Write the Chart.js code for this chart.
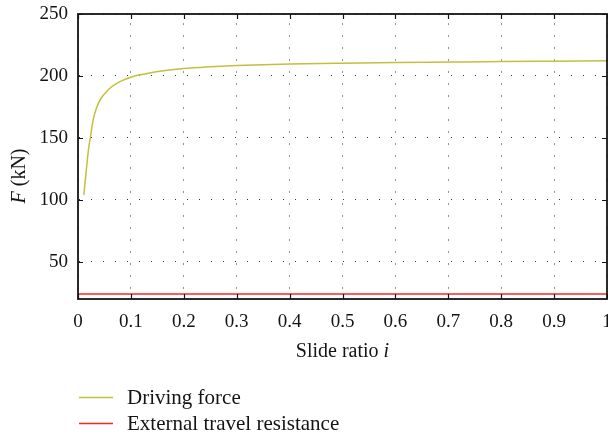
<!DOCTYPE html>
<html><head><meta charset="utf-8">
<script src="https://cdn.jsdelivr.net/npm/chart.js@4.4.1/dist/chart.umd.min.js"></script>
<style>html,body{margin:0;padding:0;background:#fff}#wrap{width:608px;height:436px;position:relative}</style>
</head><body><div id="wrap"><canvas id="c" width="608" height="436"></canvas></div>
<script>
// ---- data ----
const slideRatio = [0.011, 0.0157, 0.0202, 0.0233, 0.0284, 0.0347, 0.0428, 0.0567, 0.0756, 0.1, 0.126, 0.151, 0.2, 0.25, 0.3, 0.4, 0.5, 0.6, 0.7, 0.8, 0.9, 1.0];
const drivingForce = [104, 124, 142, 150, 164, 174, 181.4, 188.7, 194.6, 199, 201.6, 203.6, 206, 207.4, 208.4, 209.6, 210.3, 210.8, 211.2, 211.6, 211.9, 212.2];
const resistanceRatio = [0, 1];
const resistanceForce = [24, 24];
const xTickValues = [0, 0.1, 0.2, 0.3, 0.4, 0.5, 0.6, 0.7, 0.8, 0.9, 1];
const xTickLabels = ['0', '0.1', '0.2', '0.3', '0.4', '0.5', '0.6', '0.7', '0.8', '0.9', '1'];
const yTickValues = [50, 100, 150, 200, 250];
const yTickLabels = ['50', '100', '150', '200', '250'];
const seriesLabels = ['Driving force', 'External travel resistance'];
const seriesColors = ['#c4bf3c', '#ff2424'];

const FONT = "'Liberation Serif', 'DejaVu Serif', serif";
const INK = '#141414';

const framePlugin = {
  id: 'framePlugin',
  afterDraw(chart) {
    const ctx = chart.ctx, a = chart.chartArea;
    const xs = chart.scales.x, ys = chart.scales.y;
    ctx.save();
    // inward ticks
    ctx.strokeStyle = INK; ctx.lineWidth = 1.2;
    ctx.beginPath();
    xTickValues.forEach(v => {
      const px = Math.round(xs.getPixelForValue(v)) + 0.5;
      ctx.moveTo(px, a.bottom); ctx.lineTo(px, a.bottom - 5);
      ctx.moveTo(px, a.top); ctx.lineTo(px, a.top + 5);
    });
    yTickValues.forEach(v => {
      const py = Math.round(ys.getPixelForValue(v)) + 0.5;
      ctx.moveTo(a.left, py); ctx.lineTo(a.left + 5, py);
      ctx.moveTo(a.right, py); ctx.lineTo(a.right - 5, py);
    });
    ctx.stroke();
    // frame
    ctx.lineWidth = 1.8;
    ctx.strokeRect(a.left, a.top, a.right - a.left, a.bottom - a.top);
    // axis titles
    ctx.fillStyle = INK;
    ctx.textBaseline = 'alphabetic';
    const f1 = "20px " + FONT, f1i = "italic 20px " + FONT, fl = "21px " + FONT;
    ctx.font = f1; const w1 = ctx.measureText('Slide ratio ').width;
    ctx.font = f1i; const w2 = ctx.measureText('i').width;
    const cx = (a.left + a.right) / 2;
    let sx = cx - (w1 + w2) / 2;
    ctx.font = f1; ctx.fillText('Slide ratio ', sx, 357);
    ctx.font = f1i; ctx.fillText('i', sx + w1, 357);
    ctx.save();
    ctx.translate(25, 176);
    ctx.rotate(-Math.PI / 2);
    ctx.font = f1i; const wf = ctx.measureText('F').width;
    ctx.font = f1; const wr = ctx.measureText(' (kN)').width;
    let sy = -(wf + wr) / 2;
    ctx.font = f1i; ctx.fillText('F', sy, 0);
    ctx.font = f1; ctx.fillText(' (kN)', sy + wf, 0);
    ctx.restore();
    // legend
    const rows = [397.5, 423.5];
    chart.data.datasets.forEach((ds, i) => {
      ctx.strokeStyle = ds.borderColor; ctx.lineWidth = 1.5;
      ctx.beginPath(); ctx.moveTo(79, rows[i]); ctx.lineTo(113, rows[i]); ctx.stroke();
      ctx.fillStyle = INK; ctx.font = fl;
      ctx.fillText(ds.label, 127, rows[i] + 6);
    });
    ctx.restore();
  }
};

new Chart(document.getElementById('c'), {
  type: 'line',
  data: {
    datasets: [
      { label: seriesLabels[0], data: slideRatio.map((x, i) => ({ x, y: drivingForce[i] })), borderColor: seriesColors[0], borderWidth: 1.5, pointRadius: 0, cubicInterpolationMode: 'monotone', fill: false },
      { label: seriesLabels[1], data: resistanceRatio.map((x, i) => ({ x, y: resistanceForce[i] })), borderColor: seriesColors[1], borderWidth: 1.6, pointRadius: 0, fill: false }
    ]
  },
  options: {
    responsive: false, animation: false, devicePixelRatio: 1,
    layout: { padding: { top: 14, right: 1, left: 0, bottom: 0 } },
    plugins: { legend: { display: false }, tooltip: { enabled: false } },
    scales: {
      x: {
        type: 'linear', min: 0, max: 1,
        afterBuildTicks: s => { s.ticks = xTickValues.map(v => ({ value: v })); },
        afterFit: s => { s.height = 137; s.paddingLeft = 0; s.paddingRight = 0; },
        ticks: { autoSkip: false, maxRotation: 0, padding: 12, color: INK, font: { family: FONT, size: 19 }, callback: (v, i) => xTickLabels[i] },
        grid: { drawTicks: false, color: '#333', lineWidth: 1 },
        border: { display: false, dash: [1, 11], dashOffset: 2.5 }
      },
      y: {
        type: 'linear', min: 20, max: 250,
        afterBuildTicks: s => { s.ticks = yTickValues.map(v => ({ value: v })); },
        afterFit: s => { s.width = 78; s.paddingTop = 0; s.paddingBottom = 0; },
        ticks: { padding: 10, color: INK, font: { family: FONT, size: 19 }, callback: (v, i) => yTickLabels[i] },
        grid: { drawTicks: false, color: '#333', lineWidth: 1 },
        border: { display: false, dash: [1, 11], dashOffset: 11 }
      }
    }
  },
  plugins: [framePlugin]
});
</script>
</body></html>
